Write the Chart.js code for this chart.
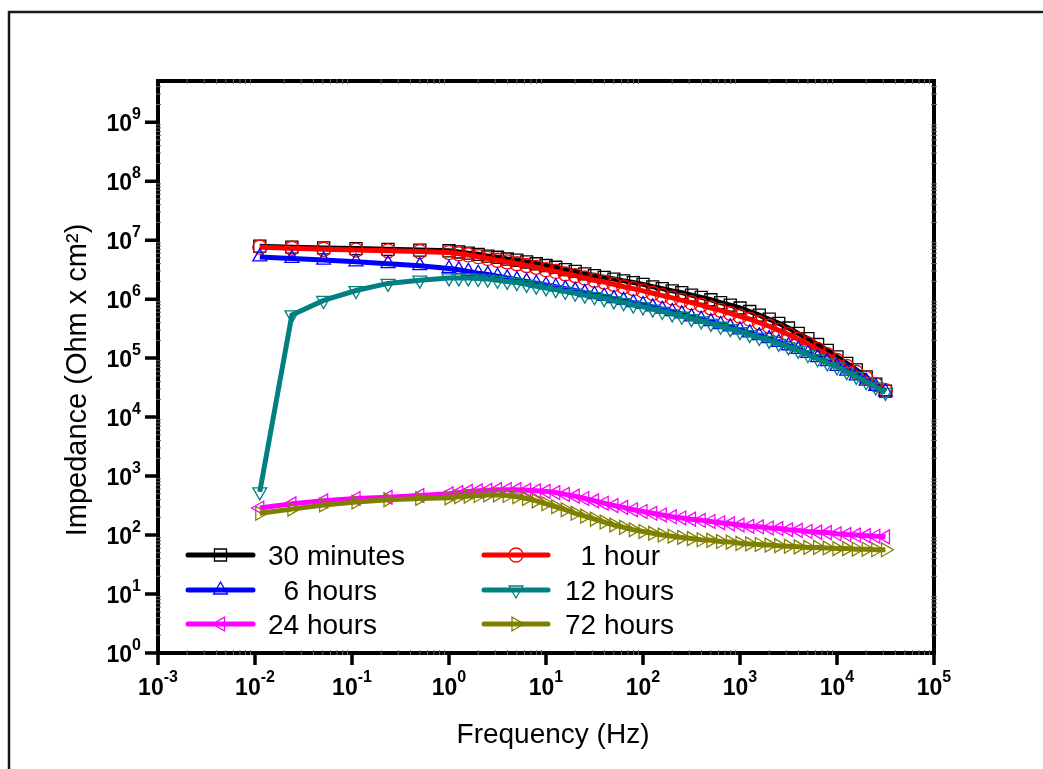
<!DOCTYPE html>
<html>
<head>
<meta charset="utf-8">
<script src="https://cdn.jsdelivr.net/npm/chart.js@4.4.0/dist/chart.umd.min.js"></script>
<style>
    html, body { margin: 0; padding: 0; background: #ffffff; }
    #wrap { width: 1043px; height: 769px; }
</style>
</head>
<body>
<div id="wrap"><canvas id="chart" width="1043" height="769"></canvas></div>
<script>
// Frequency sweep (Hz)
const frequencies = [
    0.0112, 0.024, 0.051, 0.11, 0.235, 0.5,
    1, 1.26, 1.58, 2, 2.51, 3.16, 3.98, 5.01, 6.31, 7.94,
    10, 12.6, 15.8, 20, 25.1, 31.6, 39.8, 50.1, 63.1, 79.4,
    100, 126, 158, 200, 251, 316, 398, 501, 631, 794,
    1000, 1260, 1580, 2000, 2510, 3160, 3980, 5010, 6310, 7940,
    10000, 12600, 15800, 20000, 25100, 31600
];

// Impedance modulus (Ohm x cm2) per immersion time
const z30min = [
    7.9e6, 7.6e6, 7.4e6, 7.2e6, 7.0e6, 6.8e6,
    6.61e6, 6.31e6, 6.03e6, 5.75e6, 5.37e6, 5.13e6, 4.79e6, 4.57e6, 4.27e6, 3.98e6,
    3.72e6, 3.47e6, 3.16e6, 2.95e6, 2.69e6, 2.51e6, 2.34e6, 2.19e6, 2.04e6, 1.91e6,
    1.78e6, 1.62e6, 1.51e6, 1.38e6, 1.29e6, 1.17e6, 1.07e6, 9.77e5, 8.71e5, 7.94e5,
    7.08e5, 6.17e5, 5.37e5, 4.57e5, 3.89e5, 3.24e5, 2.63e5, 2.14e5, 1.70e5, 1.35e5,
    1.05e5, 8.13e4, 6.31e4, 4.79e4, 3.63e4, 2.75e4
];
const z1hour = [
    7.6e6, 7.3e6, 7.0e6, 6.8e6, 6.6e6, 6.4e6,
    6.17e6, 5.89e6, 5.62e6, 5.25e6, 4.90e6, 4.57e6, 4.27e6, 3.98e6, 3.72e6, 3.47e6,
    3.16e6, 2.95e6, 2.69e6, 2.51e6, 2.29e6, 2.09e6, 1.95e6, 1.78e6, 1.62e6, 1.51e6,
    1.38e6, 1.26e6, 1.15e6, 1.05e6, 9.55e5, 8.71e5, 7.94e5, 7.08e5, 6.46e5, 5.75e5,
    5.13e5, 4.57e5, 3.98e5, 3.47e5, 2.95e5, 2.51e5, 2.09e5, 1.74e5, 1.41e5, 1.15e5,
    9.12e4, 7.24e4, 5.75e4, 4.57e4, 3.55e4, 2.82e4
];
const z6hours = [
    5.2e6, 4.9e6, 4.6e6, 4.3e6, 4.0e6, 3.7e6,
    3.31e6, 3.16e6, 2.95e6, 2.75e6, 2.63e6, 2.45e6, 2.29e6, 2.14e6, 2.00e6, 1.86e6,
    1.74e6, 1.62e6, 1.51e6, 1.41e6, 1.29e6, 1.20e6, 1.12e6, 1.02e6, 9.55e5, 8.71e5,
    8.13e5, 7.41e5, 6.76e5, 6.17e5, 5.62e5, 5.01e5, 4.57e5, 4.17e5, 3.72e5, 3.39e5,
    3.02e5, 2.69e5, 2.40e5, 2.14e5, 1.86e5, 1.62e5, 1.41e5, 1.20e5, 1.02e5, 8.71e4,
    7.24e4, 6.03e4, 5.01e4, 4.07e4, 3.31e4, 2.69e4
];
const z12hours = [
    540, 5.4e5, 9.5e5, 1.4e6, 1.85e6, 2.1e6,
    2.29e6, 2.29e6, 2.29e6, 2.24e6, 2.19e6, 2.09e6, 2.00e6, 1.91e6, 1.78e6, 1.66e6,
    1.55e6, 1.45e6, 1.35e6, 1.26e6, 1.17e6, 1.10e6, 1.02e6, 9.33e5, 8.71e5, 7.94e5,
    7.41e5, 6.76e5, 6.17e5, 5.62e5, 5.13e5, 4.68e5, 4.27e5, 3.89e5, 3.47e5, 3.16e5,
    2.82e5, 2.51e5, 2.24e5, 2.00e5, 1.78e5, 1.55e5, 1.35e5, 1.15e5, 9.77e4, 8.32e4,
    7.08e4, 5.89e4, 4.90e4, 3.98e4, 3.24e4, 2.63e4
];
const z24hours = [
    288, 339, 380, 417, 437, 468,
    501, 525, 550, 562, 575, 589, 589, 589, 575, 562,
    550, 525, 490, 457, 417, 380, 347, 316, 295, 269,
    251, 234, 219, 204, 195, 186, 178, 170, 162, 155,
    148, 141, 138, 132, 129, 123, 120, 115, 112, 110,
    105, 102, 100, 97.7, 95.5, 93.3
];
const z72hours = [
    234, 275, 324, 363, 398, 417,
    427, 447, 457, 468, 479, 479, 468, 447, 417, 380,
    339, 302, 269, 234, 209, 186, 166, 148, 135, 123,
    115, 107, 100, 95.5, 91.2, 87.1, 83.2, 81.3, 77.6, 75.9,
    72.4, 70.8, 69.2, 67.6, 66.1, 64.6, 63.1, 61.7, 61.7, 60.3,
    58.9, 58.9, 57.5, 57.5, 56.2, 56.2
];

const seriesLabels = ['30 minutes', '  1 hour', '  6 hours', '12 hours', '24 hours', '72 hours'];
const seriesValues = [z30min, z1hour, z6hours, z12hours, z24hours, z72hours];

// Axis ticks (powers of ten)
const xTickValues = [1e-3, 1e-2, 1e-1, 1e0, 1e1, 1e2, 1e3, 1e4, 1e5];
const yTickValues = [1e0, 1e1, 1e2, 1e3, 1e4, 1e5, 1e6, 1e7, 1e8, 1e9];

// Line + symbol styles (Origin-like)
const seriesStyles = [
    { color: '#000000', point: 'rect', radius: 8.5, rotation: 0 },
    { color: '#ff0000', point: 'circle', radius: 7, rotation: 0 },
    { color: '#0000ff', point: 'triangle', radius: 8, rotation: 0 },
    { color: '#008080', point: 'triangle', radius: 8, rotation: 180 },
    { color: '#ff00ff', point: 'triangle', radius: 8, rotation: 270 },
    { color: '#808000', point: 'triangle', radius: 8, rotation: 90 }
];

const FONT = '"Liberation Sans", Arial, Helvetica, sans-serif';

// Draw a single hollow marker (used by the legend)
function drawMarker(ctx, style, x, y) {
    const r = style.radius;
    const rad = style.rotation * Math.PI / 180;
    ctx.save();
    ctx.strokeStyle = style.color;
    ctx.lineWidth = 1.3;
    ctx.beginPath();
    if (style.point === 'rect') {
        const s = r * Math.SQRT1_2;
        ctx.rect(x - s, y - s, 2 * s, 2 * s);
    } else if (style.point === 'circle') {
        ctx.arc(x, y, r, 0, Math.PI * 2);
    } else {
        let a = rad;
        ctx.moveTo(x + Math.sin(a) * r, y - Math.cos(a) * r);
        a += Math.PI * 2 / 3;
        ctx.lineTo(x + Math.sin(a) * r, y - Math.cos(a) * r);
        a += Math.PI * 2 / 3;
        ctx.lineTo(x + Math.sin(a) * r, y - Math.cos(a) * r);
        ctx.closePath();
    }
    ctx.stroke();
    ctx.restore();
}

// "10" with a raised exponent
function drawPower(ctx, exp, x, baseY, supY, align) {
    const base = '10';
    const sup = String(exp);
    ctx.font = 'bold 23px ' + FONT;
    const wb = ctx.measureText(base).width;
    ctx.font = 'bold 16px ' + FONT;
    const ws = ctx.measureText(sup).width;
    let left = align === 'right' ? x - wb - ws : x - (wb + ws) / 2;
    ctx.textAlign = 'left';
    ctx.textBaseline = 'alphabetic';
    ctx.font = 'bold 23px ' + FONT;
    ctx.fillText(base, left, baseY);
    ctx.font = 'bold 16px ' + FONT;
    ctx.fillText(sup, left + wb, supY);
}

const decorations = {
    id: 'decorations',
    beforeDraw(chart) {
        const ctx = chart.ctx;
        ctx.save();
        ctx.fillStyle = '#ffffff';
        ctx.fillRect(0, 0, chart.width, chart.height);
        ctx.restore();
    },
    afterDraw(chart) {
        const { ctx, chartArea: a, scales } = chart;
        const xs = scales.x, ys = scales.y;
        ctx.save();
        ctx.fillStyle = '#000000';
        ctx.strokeStyle = '#000000';

        // top and right axis lines
        ctx.lineWidth = 4;
        ctx.beginPath();
        ctx.moveTo(a.left - 2, a.top);
        ctx.lineTo(a.right, a.top);
        ctx.moveTo(a.right, a.top - 2);
        ctx.lineTo(a.right, a.bottom + 2);
        ctx.stroke();

        // major ticks (outside, bottom and left)
        ctx.lineWidth = 3.5;
        ctx.beginPath();
        xTickValues.forEach(v => {
            const px = xs.getPixelForValue(v);
            ctx.moveTo(px, a.bottom);
            ctx.lineTo(px, a.bottom + 12);
        });
        yTickValues.forEach(v => {
            const py = ys.getPixelForValue(v);
            ctx.moveTo(a.left - 13, py);
            ctx.lineTo(a.left, py);
        });
        ctx.stroke();

        // faint minor ticks on all four sides
        ctx.lineWidth = 1;
        ctx.strokeStyle = '#666666';
        ctx.beginPath();
        for (let d = -3; d < 5; d++) {
            for (let k = 2; k <= 9; k++) {
                const px = xs.getPixelForValue(k * Math.pow(10, d));
                ctx.moveTo(px, a.bottom - 3); ctx.lineTo(px, a.bottom + 2);
                ctx.moveTo(px, a.top - 2); ctx.lineTo(px, a.top + 3);
            }
        }
        for (let d = 0; d < 10; d++) {
            for (let k = 2; k <= 9; k++) {
                const v = k * Math.pow(10, d);
                if (v >= ys.max) continue;
                const py = ys.getPixelForValue(v);
                ctx.moveTo(a.left - 2, py); ctx.lineTo(a.left + 3, py);
                ctx.moveTo(a.right - 3, py); ctx.lineTo(a.right + 3, py);
            }
        }
        ctx.stroke();

        // tick labels
        ctx.fillStyle = '#000000';
        xTickValues.forEach(v => {
            drawPower(ctx, Math.round(Math.log10(v)), xs.getPixelForValue(v), 695, 682, 'center');
        });
        yTickValues.forEach(v => {
            const py = ys.getPixelForValue(v);
            drawPower(ctx, Math.round(Math.log10(v)), 141, py + 9, py - 3, 'right');
        });

        // axis titles
        ctx.font = '28px ' + FONT;
        ctx.textAlign = 'center';
        ctx.textBaseline = 'alphabetic';
        ctx.fillText('Frequency (Hz)', 553, 743);
        ctx.save();
        ctx.translate(86, 380);
        ctx.rotate(-Math.PI / 2);
        ctx.font = '29px ' + FONT;
        ctx.fillText('Impedance (Ohm x cm\u00B2)', 0, 0);
        ctx.restore();

        // outer frame (top and left edges)
        ctx.strokeStyle = '#1a1a1a';
        ctx.lineWidth = 2.5;
        ctx.beginPath();
        ctx.moveTo(8, 12);
        ctx.lineTo(chart.width, 12);
        ctx.moveTo(9, 11);
        ctx.lineTo(9, chart.height);
        ctx.stroke();

        // legend: two columns, three rows
        const cols = [{ x0: 188, x1: 253, tx: 268 }, { x0: 484, x1: 548, tx: 565 }];
        const rows = [555, 590, 624];
        ctx.font = '28px ' + FONT;
        ctx.textAlign = 'left';
        seriesLabels.forEach((label, i) => {
            const c = cols[i % 2];
            const y = rows[Math.floor(i / 2)];
            const st = seriesStyles[i];
            ctx.strokeStyle = st.color;
            ctx.lineWidth = 5;
            ctx.lineCap = 'round';
            ctx.beginPath();
            ctx.moveTo(c.x0, y);
            ctx.lineTo(c.x1, y);
            ctx.stroke();
            drawMarker(ctx, st, (c.x0 + c.x1) / 2, y);
            ctx.fillStyle = '#000000';
            ctx.fillText(label, c.tx, y + 10);
        });
        ctx.restore();
    }
};

const datasets = seriesValues.map((vals, i) => ({
    label: seriesLabels[i].trim(),
    data: frequencies.map((f, j) => ({ x: f, y: vals[j] })),
    borderColor: seriesStyles[i].color,
    borderWidth: 5,
    pointStyle: seriesStyles[i].point,
    pointRadius: seriesStyles[i].radius,
    pointRotation: seriesStyles[i].rotation,
    pointBorderColor: seriesStyles[i].color,
    pointBackgroundColor: 'rgba(0,0,0,0)',
    pointBorderWidth: 1.3,
    tension: 0,
    order: seriesLabels.length - i
}));

new Chart(document.getElementById('chart'), {
    type: 'line',
    data: { datasets: datasets },
    options: {
        responsive: false,
        devicePixelRatio: 1,
        animation: false,
        layout: { padding: { left: 158, top: 81, right: 109, bottom: 116 } },
        plugins: { legend: { display: false }, tooltip: { enabled: false } },
        scales: {
            x: {
                type: 'logarithmic',
                min: 1e-3,
                max: 1e5,
                grid: { display: false, drawTicks: false },
                border: { display: true, width: 4, color: '#000000' },
                ticks: { display: false }
            },
            y: {
                type: 'logarithmic',
                min: 1,
                max: 5e9,
                grid: { display: false, drawTicks: false },
                border: { display: true, width: 4, color: '#000000' },
                ticks: { display: false }
            }
        }
    },
    plugins: [decorations]
});
</script>
</body>
</html>
